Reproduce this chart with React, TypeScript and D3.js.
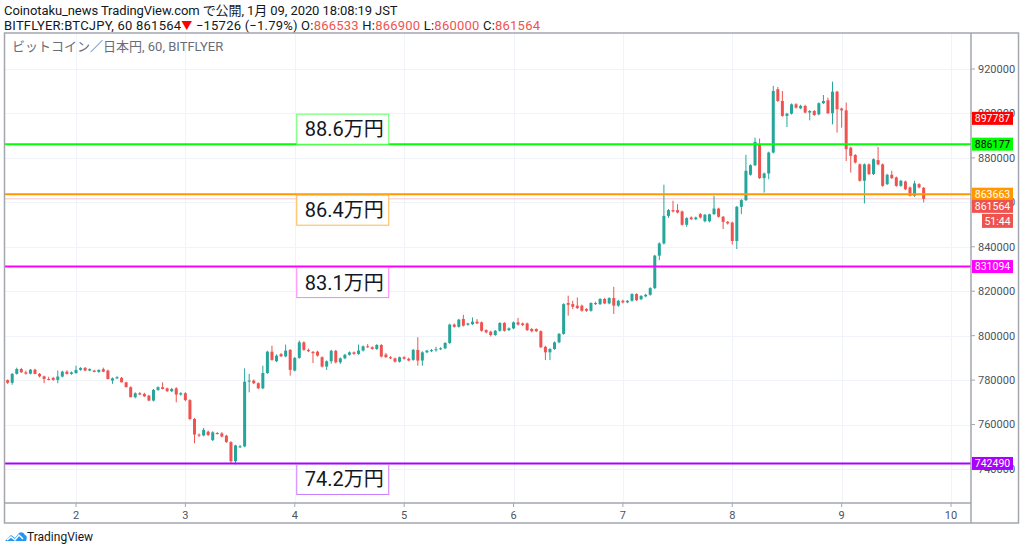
import * as d3 from 'd3';

// hourly BTC/JPY candles (bitFlyer), thousands of yen: [open, high, low, close]
// first candle opens at Jan 1 09:00, hours counted from Jan 2 00:00
const firstHour = -15;
const candles: [number, number, number, number][] = [
  [780.0, 780.3, 778.3, 778.8], [778.8, 783.2, 777.9, 782.8], [782.8, 785.6, 782.5, 785.0],
  [785.0, 785.5, 783.3, 783.5], [783.5, 784.3, 782.5, 782.9], [782.9, 785.0, 782.6, 784.7],
  [784.7, 785.1, 782.6, 782.8], [782.8, 783.2, 781.2, 781.7], [781.7, 782.0, 778.6, 780.5],
  [780.5, 781.5, 779.9, 780.2], [781.0, 781.4, 779.7, 780.1], [780.1, 784.3, 778.6, 781.6],
  [781.6, 784.2, 781.2, 783.8], [783.8, 784.4, 782.5, 782.8], [782.8, 783.9, 782.4, 783.5],
  // Jan 2
  [783.2, 786.5, 782.8, 784.6], [784.6, 785.8, 784.2, 785.5], [785.5, 785.9, 784.0, 784.3],
  [784.3, 785.3, 784.0, 785.0], [784.3, 784.6, 783.5, 783.7], [783.7, 784.8, 783.3, 784.6],
  [784.9, 785.6, 783.6, 783.8], [784.3, 784.7, 780.3, 780.5], [779.8, 781.2, 778.3, 780.8],
  [780.8, 781.8, 780.5, 781.3], [781.0, 781.4, 779.0, 779.0], [779.0, 779.3, 776.8, 776.8],
  [776.8, 777.2, 772.3, 772.3], [772.3, 774.5, 771.8, 774.1], [774.1, 774.6, 773.2, 773.5],
  [773.8, 774.3, 772.4, 772.7], [773.0, 773.4, 770.5, 770.8], [770.8, 776.0, 770.4, 775.6],
  [775.6, 777.2, 775.2, 776.8], [776.8, 779.0, 775.8, 776.0], [776.3, 776.6, 774.7, 775.0],
  [775.0, 776.5, 774.6, 776.0], [776.3, 776.8, 770.0, 773.5], [773.5, 774.6, 773.0, 774.1],
  // Jan 3
  [774.1, 774.6, 770.5, 771.0], [771.0, 771.4, 762.0, 762.5], [762.5, 763.0, 751.6, 755.5],
  [755.5, 756.0, 754.4, 755.1], [755.1, 758.5, 754.7, 757.6], [756.8, 757.3, 754.8, 755.3],
  [753.0, 757.0, 752.6, 756.5], [756.2, 756.6, 755.5, 755.8], [756.0, 756.6, 754.3, 754.6],
  [755.0, 755.4, 751.8, 752.1], [752.1, 752.5, 742.6, 743.5], [743.5, 750.9, 742.0, 750.6],
  [749.8, 750.8, 749.4, 750.2], [750.2, 785.3, 749.8, 779.3], [779.3, 782.8, 774.5, 779.8],
  [779.8, 780.3, 778.2, 778.6], [778.6, 779.0, 776.0, 776.3], [776.3, 786.5, 775.9, 783.2],
  [783.2, 793.2, 782.8, 792.8], [792.8, 795.5, 788.7, 789.1], [788.5, 791.6, 788.1, 791.0],
  [791.7, 792.2, 790.4, 790.7], [790.7, 796.0, 790.3, 793.3], [793.6, 794.0, 782.0, 784.6],
  // Jan 4
  [784.3, 790.4, 783.9, 790.0], [790.0, 797.8, 789.6, 797.0], [797.0, 797.4, 793.2, 793.6],
  [793.6, 794.2, 792.6, 793.0], [792.7, 793.1, 787.7, 792.1], [792.8, 793.2, 790.6, 791.0],
  [790.3, 790.7, 785.7, 786.1], [786.1, 788.9, 784.6, 788.5], [788.5, 793.6, 787.4, 793.2],
  [793.2, 793.6, 787.5, 788.0], [788.0, 790.2, 787.3, 789.8], [789.8, 791.8, 789.4, 791.4],
  [791.4, 792.9, 791.0, 792.5], [792.5, 792.9, 791.4, 791.8], [791.8, 796.0, 791.4, 793.3],
  [793.3, 795.6, 792.9, 795.2], [795.2, 796.2, 794.5, 794.8], [794.8, 795.2, 793.7, 794.0],
  [794.0, 796.2, 793.6, 795.8], [795.8, 796.2, 790.2, 790.6], [791.5, 792.2, 790.0, 790.3],
  [790.3, 790.8, 789.5, 789.8], [789.8, 790.1, 787.9, 788.3], [788.3, 790.6, 787.9, 790.3],
  // Jan 5
  [790.3, 790.8, 789.2, 789.6], [789.6, 790.1, 788.5, 788.8], [789.1, 794.0, 788.7, 793.6],
  [793.6, 799.3, 786.5, 788.8], [788.8, 793.0, 786.5, 792.5], [792.5, 793.6, 792.1, 793.3],
  [793.0, 794.0, 792.6, 793.5], [793.5, 795.0, 792.8, 793.9], [793.9, 794.8, 793.5, 794.3],
  [794.3, 797.1, 793.9, 796.7], [796.7, 805.4, 796.3, 805.0], [805.0, 805.5, 803.6, 804.0],
  [804.0, 807.6, 803.6, 807.2], [807.5, 809.4, 804.1, 804.5], [804.9, 805.8, 804.5, 805.5],
  [805.2, 808.2, 804.8, 806.3], [806.3, 807.5, 805.2, 805.5], [806.0, 806.4, 801.8, 802.2],
  [802.5, 802.9, 801.0, 801.5], [801.8, 802.2, 799.6, 800.3], [800.3, 802.6, 799.9, 802.2],
  [802.2, 806.1, 801.8, 805.7], [805.7, 806.1, 801.8, 802.2], [802.5, 803.7, 802.1, 803.3],
  // Jan 6
  [803.3, 806.4, 802.9, 806.0], [806.0, 808.0, 804.5, 805.0], [805.5, 805.9, 804.3, 804.8],
  [805.5, 805.9, 802.1, 802.5], [803.0, 803.4, 801.5, 802.0], [803.0, 803.3, 801.6, 802.0],
  [802.0, 802.4, 794.4, 794.8], [795.0, 795.4, 789.0, 792.5], [792.5, 794.4, 789.0, 794.0],
  [794.0, 797.4, 793.6, 797.0], [797.0, 801.2, 796.6, 800.8], [800.8, 814.6, 800.4, 814.2],
  [814.7, 818.0, 809.0, 813.9], [814.2, 815.7, 812.0, 813.0], [813.5, 817.2, 812.0, 812.4],
  [813.5, 814.0, 810.8, 811.2], [812.0, 812.4, 810.7, 811.2], [811.2, 815.0, 810.8, 814.7],
  [814.7, 815.3, 813.8, 814.2], [814.2, 816.9, 813.8, 816.5], [816.5, 817.0, 814.2, 814.5],
  [814.5, 817.3, 814.1, 816.9], [816.9, 822.0, 809.8, 813.5], [813.5, 816.1, 813.0, 815.7],
  // Jan 7
  [815.7, 816.2, 814.5, 815.0], [815.0, 816.0, 814.6, 815.7], [815.7, 819.1, 815.3, 818.7],
  [818.7, 819.1, 815.6, 816.0], [816.4, 818.2, 816.0, 817.9], [817.7, 818.8, 817.3, 818.4],
  [818.4, 821.8, 818.0, 821.4], [821.4, 836.4, 821.0, 836.0], [836.0, 842.0, 834.0, 841.5],
  [841.5, 867.9, 841.0, 853.9], [853.9, 857.0, 853.0, 856.5], [856.5, 860.7, 855.4, 855.9],
  [856.5, 859.2, 855.0, 855.4], [855.9, 856.3, 849.5, 849.9], [849.9, 853.3, 849.0, 852.9],
  [853.2, 853.7, 852.0, 852.4], [852.4, 853.6, 852.0, 853.2], [854.7, 855.2, 852.7, 853.2],
  [851.5, 854.8, 851.0, 854.4], [851.5, 854.9, 851.0, 854.6], [854.7, 863.0, 854.3, 857.2],
  [857.2, 857.6, 853.1, 853.5], [853.5, 853.9, 848.0, 851.2], [851.2, 851.6, 850.0, 850.5],
  // Jan 8
  [850.9, 851.3, 841.0, 842.6], [842.6, 858.4, 839.0, 858.0], [858.0, 861.4, 854.7, 861.0],
  [861.0, 881.4, 860.6, 874.2], [872.4, 877.1, 872.0, 876.7], [876.7, 889.1, 876.3, 887.2],
  [885.8, 888.7, 870.5, 870.9], [870.9, 873.4, 864.4, 873.0], [873.0, 882.8, 870.4, 882.4],
  [882.4, 912.4, 882.0, 910.1], [910.9, 911.9, 905.2, 905.6], [905.6, 910.1, 898.5, 898.9],
  [898.9, 900.3, 893.9, 899.9], [899.9, 904.5, 899.5, 904.1], [904.1, 904.6, 902.2, 902.6],
  [902.3, 903.9, 901.9, 903.4], [903.4, 903.9, 900.0, 900.4], [900.4, 901.5, 896.9, 901.1],
  [901.1, 901.5, 898.9, 899.3], [899.6, 905.0, 899.2, 904.6], [904.6, 908.3, 904.2, 905.6],
  [905.9, 907.1, 899.7, 900.1], [900.1, 914.3, 895.1, 909.8], [909.8, 910.2, 891.4, 901.9],
  // Jan 9
  [902.2, 902.6, 893.6, 901.4], [901.4, 904.9, 878.6, 883.9], [884.6, 885.0, 873.4, 880.9],
  [881.3, 881.7, 877.5, 877.9], [877.1, 877.5, 869.3, 869.7], [869.7, 877.5, 859.5, 877.1],
  [877.1, 877.5, 872.3, 872.7], [872.7, 879.8, 872.3, 879.4], [879.0, 884.9, 876.7, 877.1],
  [877.1, 877.5, 867.0, 867.4], [868.2, 872.8, 867.8, 872.4], [872.4, 874.2, 870.5, 870.9],
  [871.2, 871.6, 867.0, 867.4], [867.4, 870.1, 867.0, 869.7], [869.4, 869.8, 865.5, 865.9],
  [866.7, 867.1, 862.6, 863.0], [863.0, 869.7, 862.5, 868.5], [868.2, 868.6, 866.3, 866.7],
  [866.533, 866.9, 860.0, 861.564],
];

const priceTicks = [740000, 760000, 780000, 800000, 820000, 840000, 860000, 880000, 900000, 920000];
const dayTicks = [2, 3, 4, 5, 6, 7, 8, 9, 10];

// horizontal levels drawn on the chart and their notes
const levelPrices = [886177, 863663, 831094, 742490];
const levelNotes = ['88.6万円', '86.4万円', '83.1万円', '74.2万円'];
const hiddenLevel = 897787;
const lastPrice = 861564;
const countdown = '51:44';

const headerLine = 'Coinotaku_news TradingView.com で公開, 1月 09, 2020 18:08:19 JST';
const paneTitle = 'ビットコイン／日本円, 60, BITFLYER';

const UP = '#26a69a';
const DOWN = '#ef5350';
const levelColors = ['#00ff00', '#ff9800', '#ff00ff', '#aa00ff'];
const noteBorders = ['#66ff66', '#ffb74d', '#ff80ff', '#c77dff'];
const tagText = ['#000', '#fff', '#fff', '#fff'];
const FONT = "Roboto, 'Noto Sans CJK JP', sans-serif";

export default function App() {
  const width = 1024;
  const height = 552;
  const pane = { left: 4.5, top: 33, right: 971, bottom: 503 };
  const outerRight = 1018.5;
  const outerBottom = 523;

  const y = d3.scaleLinear().domain([740000, 920000]).range([469, 69]);
  const x = d3.scaleLinear().domain([0, 192]).range([76, 951]); // hours since Jan 2

  const bodyW = 3;
  const tagW = 41;
  const tagH = 13;

  return (
    <svg
      width={width}
      height={height}
      style={{ position: 'absolute', left: 0, top: 0, background: '#fff' }}
      fontFamily={FONT}
    >
      <defs>
        <clipPath id='pane'>
          <rect x={pane.left} y={pane.top} width={pane.right - pane.left} height={pane.bottom - pane.top} />
        </clipPath>
      </defs>

      {/* header */}
      <text x={4} y={15} fontSize={13} fill='#131722' letterSpacing={-0.08}>{headerLine}</text>
      <text x={4} y={29.5} fontSize={13} fill='#131722' letterSpacing={0.22}>
        BITFLYER:BTCJPY, 60 861564
        <tspan fill='#ff0000' fontSize={11}>▼</tspan>
        <tspan> −15726 (−1.79%) O:</tspan>
        <tspan fill={DOWN}>866533</tspan>
        <tspan> H:</tspan>
        <tspan fill={DOWN}>866900</tspan>
        <tspan> L:</tspan>
        <tspan fill={DOWN}>860000</tspan>
        <tspan> C:</tspan>
        <tspan fill={DOWN}>861564</tspan>
      </text>

      {/* grid */}
      <g stroke='#f0f3fa' strokeWidth={1}>
        {priceTicks.map((p) => (
          <line key={p} x1={pane.left} x2={pane.right} y1={Math.round(y(p)) + 0.5} y2={Math.round(y(p)) + 0.5} />
        ))}
        {dayTicks.map((d) => (
          <line key={d} x1={Math.round(x((d - 2) * 24)) + 0.5} x2={Math.round(x((d - 2) * 24)) + 0.5} y1={pane.top} y2={pane.bottom} />
        ))}
      </g>

      <text x={12} y={51} fontSize={13} fill='#6a6d78'>{paneTitle}</text>

      <g clipPath='url(#pane)'>
        {/* last price line */}
        <line x1={pane.left} x2={pane.right} y1={y(lastPrice)} y2={y(lastPrice)} stroke='#f7c5c4' strokeWidth={1} />

        {candles.map(([o, h, l, c], i) => {
          const cx = x(firstHour + i);
          const col = c >= o ? UP : DOWN;
          const top = y(Math.max(o, c) * 1000);
          const bot = y(Math.min(o, c) * 1000);
          return (
            <g key={i}>
              <line x1={cx} x2={cx} y1={y(h * 1000)} y2={y(l * 1000)} stroke={col} strokeWidth={1} />
              <rect x={cx - bodyW / 2} y={top} width={bodyW} height={Math.max(1, bot - top)} fill={col} />
            </g>
          );
        })}

        {levelPrices.map((p, i) => (
          <line key={p} x1={pane.left} x2={pane.right} y1={y(p)} y2={y(p)} stroke={levelColors[i]} strokeWidth={2} />
        ))}

        {levelNotes.map((t, i) => {
          const ly = y(levelPrices[i]);
          const by = i === 0 ? ly - 30 : ly + 1;
          const bx = x(48) + 2;
          return (
            <g key={t}>
              <rect x={bx} y={by} width={92} height={30} fill='#fff' stroke={noteBorders[i]} strokeWidth={1} />
              <text x={bx + 8} y={by + 22} fontSize={20} fill='#131722'>{t}</text>
            </g>
          );
        })}
      </g>

      {/* frame */}
      <g fill='none' stroke='#a3a6af' strokeWidth={1.5}>
        <rect x={pane.left} y={pane.top} width={outerRight - pane.left} height={outerBottom - pane.top} />
        <line x1={pane.right} x2={pane.right} y1={pane.top} y2={outerBottom} />
        <line x1={pane.left} x2={pane.right} y1={pane.bottom} y2={pane.bottom} />
      </g>

      {/* price axis */}
      <g fontSize={11} fill='#4c525e'>
        {priceTicks.map((p) => (
          <g key={p}>
            <line x1={pane.right} x2={pane.right + 4} y1={y(p)} y2={y(p)} stroke='#a3a6af' />
            <text x={978} y={y(p)} dy='0.35em'>{p}</text>
          </g>
        ))}
      </g>

      {/* time axis */}
      <g fontSize={11} fill='#4c525e' textAnchor='middle'>
        {dayTicks.map((d) => (
          <g key={d}>
            <line x1={x((d - 2) * 24)} x2={x((d - 2) * 24)} y1={pane.bottom} y2={pane.bottom + 4} stroke='#a3a6af' />
            <text x={x((d - 2) * 24)} y={515} dy='0.35em'>{d}</text>
          </g>
        ))}
      </g>

      {/* price tags */}
      <g fontSize={10.5} textAnchor='middle'>
        <rect x={pane.right + 1} y={y(hiddenLevel) - tagH / 2} width={tagW} height={tagH} fill='#ff0000' />
        <text x={pane.right + 1 + tagW / 2} y={y(hiddenLevel)} dy='0.35em' fill='#fff'>{hiddenLevel}</text>
        {levelPrices.map((p, i) => (
          <g key={p}>
            <rect x={pane.right + 1} y={y(p) - tagH / 2} width={tagW} height={tagH} fill={levelColors[i]} />
            <text x={pane.right + 1 + tagW / 2} y={y(p)} dy='0.35em' fill={tagText[i]}>{p}</text>
          </g>
        ))}
        <rect x={pane.right + 1} y={y(lastPrice) + 1} width={tagW} height={tagH} fill={DOWN} />
        <text x={pane.right + 1 + tagW / 2} y={y(lastPrice) + 1 + tagH / 2} dy='0.35em' fill='#fff'>{lastPrice}</text>
        <rect x={pane.right + 11} y={y(lastPrice) + 15} width={tagW - 10} height={tagH + 1} fill={DOWN} />
        <text x={pane.right + 11 + (tagW - 10) / 2} y={y(lastPrice) + 22} dy='0.35em' fill='#fff'>{countdown}</text>
      </g>

      {/* logo */}
      <g transform='translate(4,530)'>
        <path
          d='M1 11 L7 5 L11 8 L15 3 Q19 1 21 5 Q24 6 22 11 Z'
          fill='#2196f3'
        />
        <path d='M3 10 L7 7 L11 10 L15 5 L19 9' fill='none' stroke='#fff' strokeWidth={1.5} />
      </g>
      <text x={27} y={541} fontSize={12} fill='#131722'>TradingView</text>
    </svg>
  );
}
